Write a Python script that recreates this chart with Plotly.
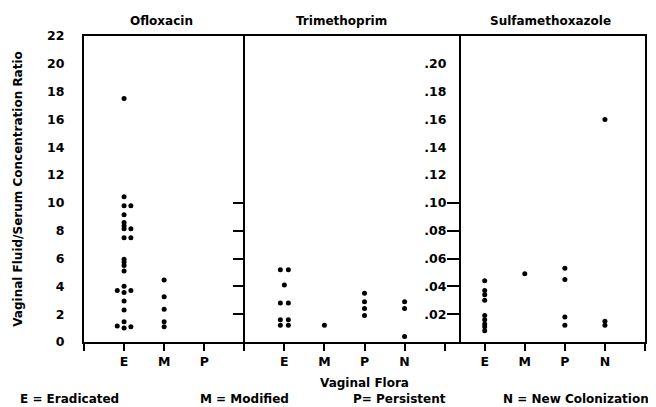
import plotly.graph_objects as go

# ---------------- data ----------------
flora_codes = ["E", "M", "P", "N"]
panel_names = ["Ofloxacin", "Trimethoprim", "Sulfamethoxazole"]
panel_flora = [["E", "M", "P"], ["E", "M", "P", "N"], ["E", "M", "P", "N"]]

oflox_flora = ["E", "E", "E", "E", "E", "E", "E", "E", "E", "E", "E", "E", "E",
               "E", "E", "E", "E", "E", "E", "E", "E", "E", "E", "E", "E",
               "M", "M", "M", "M", "M"]
oflox_ratio = [17.5, 10.45, 9.8, 9.8, 9.15, 8.6, 8.35, 8.15, 8.15, 7.5, 7.5,
               5.95, 5.75, 5.5, 5.1, 4.0, 3.7, 3.7, 3.55, 2.95, 2.3, 1.45,
               1.15, 1.1, 1.0,
               4.45, 3.25, 2.35, 1.45, 1.1]
oflox_slot = [0, 0, 0, 1, 0, 0, 0, 0, 1, 0, 1, 0, 0, 0, 0, 0, -1, 1, 0, 0, 0,
              0, -1, 1, 0,
              0, 0, 0, 0, 0]

trim_flora = ["E", "E", "E", "E", "E", "E", "E", "E", "E",
              "M",
              "P", "P", "P", "P",
              "N", "N", "N"]
trim_ratio = [0.052, 0.052, 0.041, 0.028, 0.028, 0.016, 0.016, 0.012, 0.012,
              0.012,
              0.035, 0.029, 0.024, 0.019,
              0.029, 0.024, 0.004]
trim_slot = [-1, 1, 0, -1, 1, -1, 1, -1, 1,
             0,
             0, 0, 0, 0,
             0, 0, 0]

sulfa_flora = ["E", "E", "E", "E", "E", "E", "E", "E", "E",
               "M",
               "P", "P", "P", "P",
               "N", "N", "N"]
sulfa_ratio = [0.044, 0.037, 0.034, 0.030, 0.019, 0.016, 0.013, 0.011, 0.008,
               0.049,
               0.053, 0.045, 0.018, 0.012,
               0.160, 0.015, 0.012]
sulfa_slot = [0] * len(sulfa_ratio)

left_ticks = [0, 2, 4, 6, 8, 10, 12, 14, 16, 18, 20, 22]
right_ticks = [0.02, 0.04, 0.06, 0.08, 0.10, 0.12, 0.14, 0.16, 0.18, 0.20]
right_tick_text = [".02", ".04", ".06", ".08", ".10", ".12", ".14", ".16", ".18", ".20"]
legend_items = ["E = Eradicated", "M = Modified", "P= Persistent", "N = New Colonization"]

# ---------------- layout helpers ----------------
panel_start = [0, 4, 9]          # category slot where each panel begins
panel_edges = [0, 4, 9.375, 14]  # borders between panels (x units)
title_x = [1.94, 6.42, 11.65]    # panel title centres (x units)
dodge = [0.17, 0.10, 0.10]
X_MAX = 14

FONT = "DejaVu Sans"


def xpos(panel, flora, slot):
    return [panel_start[panel] + flora_codes.index(f) + 1 + s * dodge[panel]
            for f, s in zip(flora, slot)]


fig = go.Figure()
marker = dict(color="black", size=5, line=dict(width=0))
fig.add_trace(go.Scatter(x=xpos(0, oflox_flora, oflox_slot), y=oflox_ratio,
                         mode="markers", marker=marker, yaxis="y",
                         name=panel_names[0], showlegend=False))
fig.add_trace(go.Scatter(x=xpos(1, trim_flora, trim_slot), y=trim_ratio,
                         mode="markers", marker=marker, yaxis="y2",
                         name=panel_names[1], showlegend=False))
fig.add_trace(go.Scatter(x=xpos(2, sulfa_flora, sulfa_slot), y=sulfa_ratio,
                         mode="markers", marker=marker, yaxis="y2",
                         name=panel_names[2], showlegend=False))
# empty traces so the divider axes get drawn
for ax in ["y3", "y4"]:
    fig.add_trace(go.Scatter(x=[], y=[], mode="markers", yaxis=ax,
                             showlegend=False, hoverinfo="skip"))

# x tick labels
tickvals = list(range(0, X_MAX + 1))
ticktext = [""] * len(tickvals)
for p, codes in enumerate(panel_flora):
    for i, c in enumerate(codes):
        ticktext[panel_start[p] + i + 1] = c

bold = dict(family=FONT, size=12, color="black", weight="bold")
bold_tick = dict(family=FONT, size=12.5, color="black", weight="bold")

fig.update_layout(
    width=648, height=399, autosize=False,
    margin=dict(l=76, r=9, t=28, b=65),
    plot_bgcolor="white", paper_bgcolor="white",
    showlegend=False,
    xaxis=dict(range=[0, X_MAX], tickvals=tickvals, ticktext=ticktext,
               ticks="outside", ticklen=7, tickwidth=1.5, tickcolor="black",
               showline=True, linewidth=2, linecolor="black", mirror=True,
               showgrid=False, zeroline=False, tickfont=bold_tick,
               title=dict(text="Vaginal Flora", font=bold, standoff=11)),
    yaxis=dict(range=[0, 22], tickvals=left_ticks, ticks="",
               showline=True, linewidth=2, linecolor="black", mirror=True,
               showgrid=False, zeroline=False, tickfont=bold_tick,
               ticklabelstandoff=15),
    yaxis2=dict(overlaying="y", anchor="free",
                position=panel_edges[2] / X_MAX, side="left",
                range=[0, 0.22], tickvals=right_ticks, ticktext=right_tick_text,
                ticks="", showline=True, linewidth=1.5, linecolor="black",
                showgrid=False, zeroline=False, tickfont=bold_tick,
                ticklabelstandoff=10),
    yaxis3=dict(overlaying="y", anchor="free",
                position=panel_edges[2] / X_MAX, side="left",
                range=[0, 0.22], tickvals=right_ticks[:5],
                ticks="outside", ticklen=13, tickwidth=1.5, tickcolor="black",
                showticklabels=False, showline=False,
                showgrid=False, zeroline=False),
    yaxis4=dict(overlaying="y", anchor="free",
                position=panel_edges[1] / X_MAX, side="left",
                range=[0, 22], tickvals=left_ticks[1:6],
                ticks="outside", ticklen=11, tickwidth=1.5, tickcolor="black",
                showticklabels=False, showline=True, linewidth=1.5,
                linecolor="black", showgrid=False, zeroline=False),
)

# panel titles
for name, cx in zip(panel_names, title_x):
    fig.add_annotation(x=cx, xref="x", y=1.05, yref="paper", text=name,
                       showarrow=False, font=bold, xanchor="center",
                       yanchor="middle")

# y-axis title
fig.add_annotation(x=-0.118, xref="paper", y=0.5, yref="paper",
                   text="Vaginal Fluid/Serum Concentration Ratio",
                   textangle=-90, showarrow=False,
                   font=dict(family=FONT, size=12, color="black", weight="bold"),
                   xanchor="center", yanchor="middle")

# legend line
legend_x = [-0.117, 0.2025, 0.476, 0.744]
for txt, lx in zip(legend_items, legend_x):
    fig.add_annotation(x=lx, xref="paper", y=-0.185, yref="paper", text=txt,
                       showarrow=False, font=bold, xanchor="left",
                       yanchor="middle")

fig.write_html("out.html")
